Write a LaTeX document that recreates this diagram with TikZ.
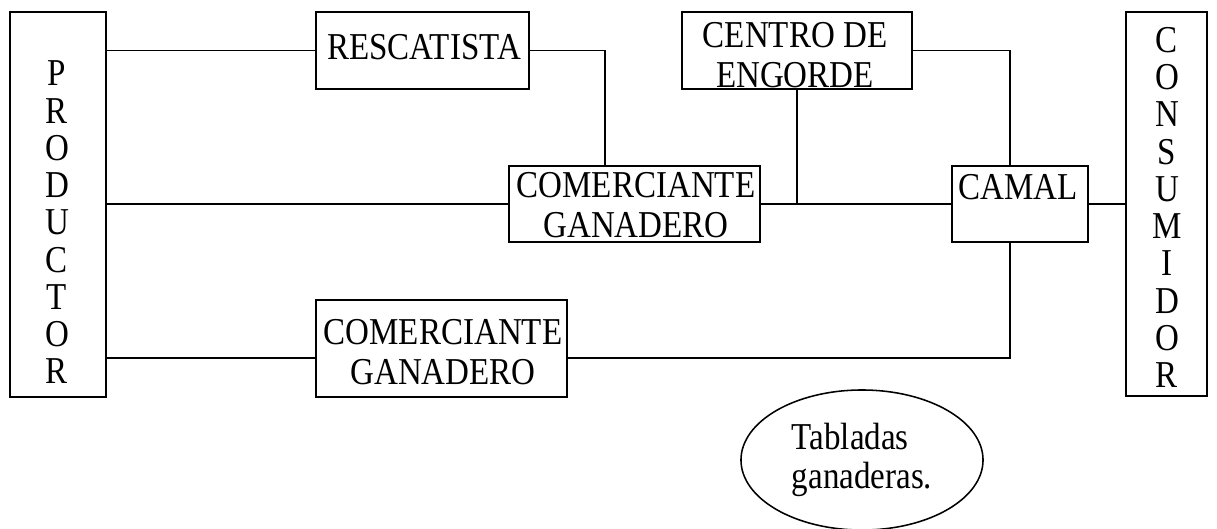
\documentclass[tikz,border=0pt]{standalone}
\usepackage{fontspec}
\setmainfont{Liberation Serif}[FakeStretch=0.87]
\usetikzlibrary{shapes.geometric}

\begin{document}
\begin{tikzpicture}[x=0.025cm, y=-0.025cm, line width=1.1pt,
    caja/.style={draw, rectangle, inner sep=0pt},
    letras/.style={inner sep=0pt, align=center, font=\fontsize{27}{26.5}\selectfont},
    texto/.style={inner sep=0pt, align=center, font=\fontsize{27}{28}\selectfont}]
			%%%%% START %%%%%
			\useasboundingbox (0, 0) rectangle (1217, 528);
			
			% columnas de los extremos
			\node[caja, minimum width=2.4cm, minimum height=9.625cm] (prod) at (58, 204.5) {};
			\node[letras] (prodtxt) at (57, 222.5) {P\\R\\O\\D\\U\\C\\T\\O\\R};
			
			\node[caja, minimum width=2.025cm, minimum height=9.6cm] (cons) at (1166.5, 204) {};
			\node[letras] (constxt) at (1167, 207.5) {C\\O\\N\\S\\U\\M\\I\\D\\O\\R};
			
			% cajas intermedias
			\node[caja, minimum width=5.325cm, minimum height=1.925cm] (resc) at (422.5, 50.5) {};
			\node[texto] (resctxt) at (424, 47) {RESCATISTA};
			
			\node[caja, minimum width=5.75cm, minimum height=1.925cm] (centro) at (797, 50.5) {};
			\node[texto] (centrotxt) at (795, 55) {CENTRO DE\\ENGORDE};
			
			\node[caja, minimum width=6.275cm, minimum height=1.9cm] (com1) at (634.5, 204) {};
			\node[texto] (com1txt) at (636, 205) {COMERCIANTE\\GANADERO};
			
			\node[caja, minimum width=3.4cm, minimum height=1.9cm] (camal) at (1020, 204) {};
			\node[texto] (camaltxt) at (1018, 187) {CAMAL};
			
			\node[caja, minimum width=6.275cm, minimum height=2.425cm] (com2) at (441.5, 348.5) {};
			\node[texto] (com2txt) at (443, 352) {COMERCIANTE\\GANADERO};
			
			\node[draw, ellipse, minimum width=6.05cm, minimum height=3.5cm, inner sep=0pt,
			      align=left, font=\fontsize{27}{28}\selectfont] (tabl) at (862, 460) {Tabladas\\ganaderas.};
			
			% puntos de union
			\coordinate (rc) at (605, 166);
			\coordinate (cc) at (1010, 166);
			\coordinate (cb) at (1010, 242);
			\coordinate (p2) at (316, 358);
			\coordinate (c2) at (567, 358);
			
			% lineas
			\draw (resc.west) -- (resc.west -| prod.east);
			\draw (resc.east) -| (rc);
			\draw (com1.west) -- (com1.west -| prod.east);
			\draw (com1.east) -- (camal.west);
			\draw (centro.south) -- (centro.south |- com1.east);
			\draw (centro.east) -| (cc);
			\draw (camal.east) -- (cons.west);
			\draw (p2) -- (p2 -| prod.east);
			\draw (c2) -| (cb);
			
			%%%%% END %%%%%
\end{tikzpicture}
\end{document}
